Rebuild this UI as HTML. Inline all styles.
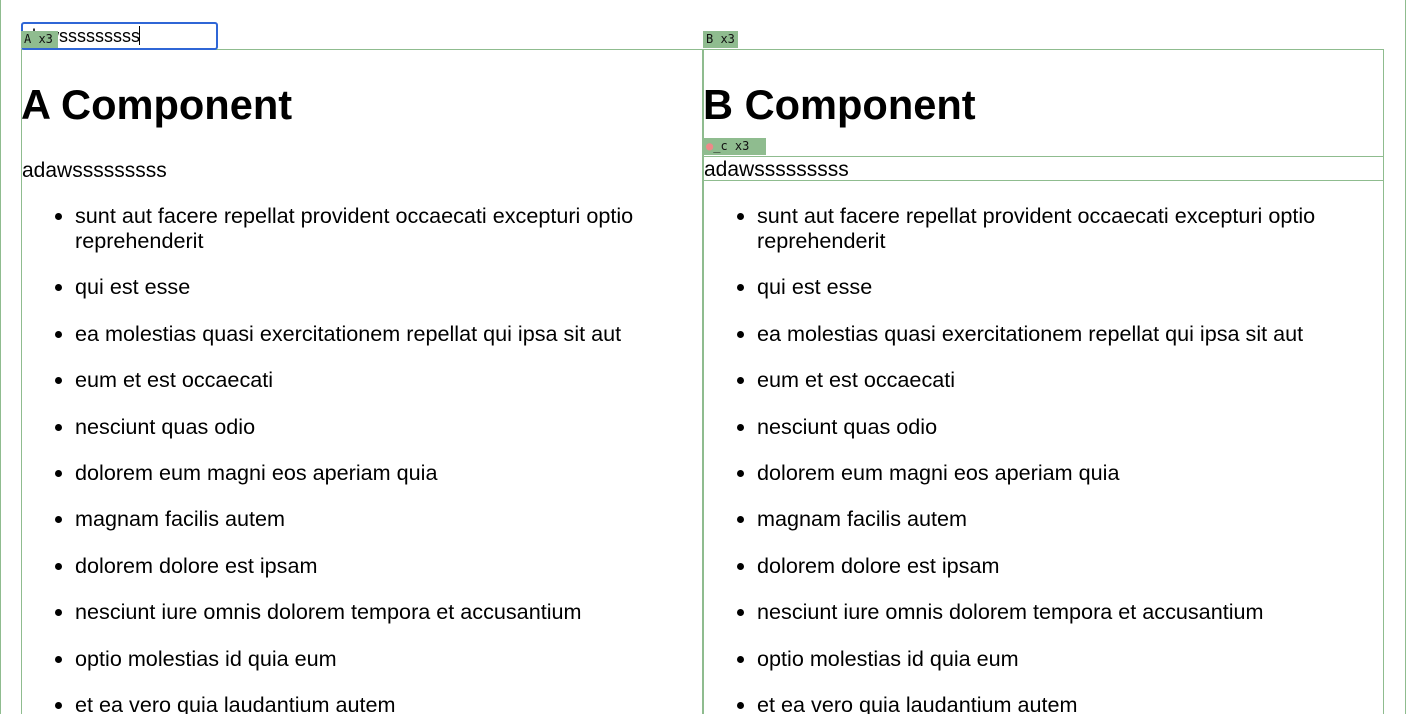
<!DOCTYPE html>
<html><head><style>
html,body{margin:0;padding:0;width:1406px;height:714px;overflow:hidden;background:#fff;font-family:"Liberation Sans",sans-serif;color:#000;position:relative}
.abs{position:absolute}
.outer{left:0;top:0;width:1404px;height:714px;border-left:1px solid #8fbc8f;border-right:1px solid #8fbc8f}
.box{border:1px solid #8fbc8f;height:680px}
.tag{background:#8fbc8f;font-family:"DejaVu Sans Mono","Liberation Mono",monospace;font-size:12px;line-height:17px;padding:0 3px;color:#111}
h1{position:absolute;margin:0;font-size:41.6px;font-weight:bold;line-height:48px;white-space:nowrap}
.p{font-size:21px;line-height:24px;white-space:nowrap}
ul{position:absolute;margin:0;padding:0;list-style:none;font-size:21.6px;line-height:25px;width:640px}
li{position:relative;margin-bottom:21.4px;padding-left:54px}
li:before{content:"";position:absolute;left:34px;top:10px;width:7px;height:7px;border-radius:50%;background:#000}
</style></head><body>
<div class="abs outer"></div>
<div class="abs box" style="left:21px;top:49px;width:680px"></div>
<div class="abs box" style="left:702px;top:49px;width:679px;border-left:2px solid #8fbc8f"></div>
<div class="abs" style="left:21px;top:22px;width:193px;height:24px;border:2px solid #2f66d6;border-radius:3px;overflow:hidden">
<div class="abs" style="right:76px;top:1px;font-size:18px;line-height:22px;white-space:nowrap">adawsssssssss</div>
</div>
<div class="abs" style="left:139px;top:26px;width:1px;height:19px;background:#000"></div>
<div class="abs tag" style="left:21px;top:31px;width:31px;padding:0 3px">A x3</div>
<div class="abs tag" style="left:703px;top:31px">B x3</div>
<h1 style="left:21px;top:81px">A Component</h1>
<h1 style="left:703px;top:81px">B Component</h1>
<div class="abs p" style="left:22px;top:159px">adawsssssssss</div>
<div class="abs tag" style="left:703px;top:138px;width:57px"><span style="color:#e88">●</span>_c x3</div>
<div class="abs" style="left:703px;top:156px;width:680px;height:23px;border-top:1px solid #8fbc8f;border-bottom:1px solid #8fbc8f"></div>
<div class="abs p" style="left:704px;top:158px">adawsssssssss</div>
<ul style="left:21px;top:203px">
<li>sunt aut facere repellat provident occaecati excepturi optio reprehenderit</li>
<li>qui est esse</li>
<li>ea molestias quasi exercitationem repellat qui ipsa sit aut</li>
<li>eum et est occaecati</li>
<li>nesciunt quas odio</li>
<li>dolorem eum magni eos aperiam quia</li>
<li>magnam facilis autem</li>
<li>dolorem dolore est ipsam</li>
<li>nesciunt iure omnis dolorem tempora et accusantium</li>
<li>optio molestias id quia eum</li>
<li>et ea vero quia laudantium autem</li>
</ul>
<ul style="left:703px;top:203px">
<li>sunt aut facere repellat provident occaecati excepturi optio reprehenderit</li>
<li>qui est esse</li>
<li>ea molestias quasi exercitationem repellat qui ipsa sit aut</li>
<li>eum et est occaecati</li>
<li>nesciunt quas odio</li>
<li>dolorem eum magni eos aperiam quia</li>
<li>magnam facilis autem</li>
<li>dolorem dolore est ipsam</li>
<li>nesciunt iure omnis dolorem tempora et accusantium</li>
<li>optio molestias id quia eum</li>
<li>et ea vero quia laudantium autem</li>
</ul>
</body></html>
